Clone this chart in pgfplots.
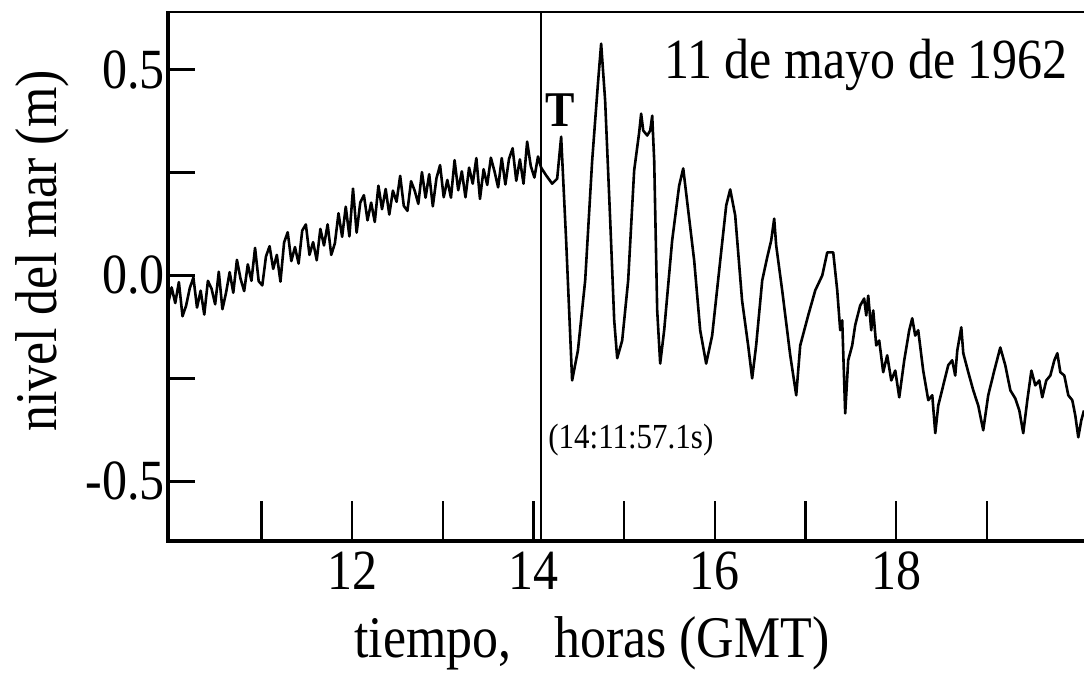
\documentclass[border=0pt]{standalone}
\usepackage{fontspec}
\setmainfont{Liberation Serif}[FakeStretch=0.88]
\usepackage{pgfplots}
\pgfplotsset{compat=1.18}
\pgfplotstableread{
h v
9.97 -0.070
10.01 -0.029
10.05 -0.067
10.09 -0.016
10.13 -0.099
10.17 -0.073
10.21 -0.031
10.25 -0.005
10.29 -0.078
10.33 -0.037
10.37 -0.095
10.41 -0.013
10.45 -0.032
10.49 -0.070
10.53 0.009
10.57 -0.082
10.61 -0.042
10.65 0.008
10.69 -0.042
10.73 0.038
10.77 -0.008
10.81 -0.038
10.85 0.027
10.89 -0.013
10.93 0.067
10.97 -0.014
11.01 -0.024
11.05 0.046
11.09 0.071
11.13 0.016
11.17 0.050
11.21 -0.015
11.25 0.080
11.29 0.105
11.33 0.035
11.37 0.069
11.41 0.029
11.45 0.109
11.49 0.124
11.53 0.050
11.57 0.081
11.61 0.037
11.65 0.113
11.69 0.073
11.73 0.124
11.77 0.050
11.81 0.078
11.85 0.151
11.89 0.094
11.93 0.167
11.97 0.095
12.01 0.211
12.05 0.104
12.09 0.177
12.13 0.195
12.17 0.134
12.21 0.177
12.25 0.130
12.29 0.218
12.33 0.161
12.37 0.210
12.41 0.148
12.45 0.206
12.49 0.179
12.53 0.242
12.57 0.169
12.61 0.157
12.65 0.229
12.69 0.206
12.73 0.174
12.77 0.251
12.81 0.189
12.85 0.246
12.89 0.168
12.93 0.236
12.97 0.268
13.01 0.190
13.05 0.232
13.09 0.189
13.13 0.280
13.17 0.207
13.21 0.253
13.25 0.190
13.29 0.262
13.33 0.223
13.37 0.285
13.41 0.186
13.45 0.258
13.49 0.220
13.53 0.286
13.57 0.253
13.61 0.214
13.65 0.285
13.69 0.221
13.73 0.283
13.77 0.309
13.81 0.230
13.85 0.282
13.89 0.223
13.93 0.325
13.97 0.266
14.01 0.238
14.05 0.289
14.084 0.262
14.14 0.243
14.206 0.223
14.261 0.235
14.305 0.337
14.36 0.085
14.426 -0.255
14.49 -0.182
14.57 -0.012
14.647 0.279
14.713 0.473
14.746 0.563
14.79 0.425
14.846 0.133
14.89 -0.109
14.923 -0.201
14.978 -0.158
15.044 -0.012
15.11 0.255
15.165 0.347
15.187 0.393
15.21 0.352
15.254 0.340
15.287 0.352
15.309 0.388
15.331 0.279
15.364 -0.085
15.397 -0.214
15.441 -0.133
15.529 0.085
15.606 0.218
15.651 0.260
15.706 0.158
15.772 0.036
15.838 -0.133
15.904 -0.214
15.97 -0.146
16.059 0.036
16.125 0.170
16.169 0.209
16.224 0.146
16.30 -0.061
16.367 -0.170
16.411 -0.250
16.455 -0.170
16.522 -0.012
16.577 0.044
16.621 0.085
16.654 0.138
16.676 0.073
16.742 -0.036
16.831 -0.194
16.897 -0.291
16.941 -0.170
17.029 -0.097
17.107 -0.036
17.184 0.000
17.239 0.056
17.305 0.056
17.349 -0.036
17.382 -0.133
17.404 -0.109
17.437 -0.335
17.47 -0.206
17.514 -0.170
17.547 -0.121
17.602 -0.073
17.646 -0.056
17.669 -0.097
17.691 -0.049
17.724 -0.133
17.746 -0.085
17.779 -0.170
17.812 -0.158
17.856 -0.235
17.90 -0.194
17.945 -0.255
17.989 -0.231
18.033 -0.296
18.088 -0.206
18.143 -0.133
18.176 -0.104
18.209 -0.146
18.242 -0.133
18.297 -0.231
18.353 -0.303
18.397 -0.291
18.43 -0.383
18.463 -0.316
18.518 -0.267
18.573 -0.218
18.617 -0.206
18.65 -0.243
18.673 -0.182
18.717 -0.126
18.739 -0.189
18.794 -0.235
18.849 -0.279
18.904 -0.316
18.959 -0.376
19.014 -0.291
19.081 -0.231
19.147 -0.175
19.202 -0.218
19.258 -0.279
19.313 -0.299
19.357 -0.328
19.40 -0.383
19.445 -0.303
19.49 -0.231
19.533 -0.267
19.577 -0.255
19.61 -0.296
19.654 -0.255
19.699 -0.243
19.743 -0.206
19.776 -0.189
19.809 -0.235
19.853 -0.243
19.897 -0.291
19.941 -0.303
19.974 -0.340
20.007 -0.393
20.04 -0.352
20.07 -0.328
}\gauge
\begin{document}
\begin{tikzpicture}
\useasboundingbox (-84pt,-68pt) rectangle (458pt,270.5pt);
\begin{axis}[
  at={(0,0)}, anchor=south west,
  scale only axis, width=458pt, height=264.5pt,
  xmin=9.97, xmax=20.07, ymin=-0.645, ymax=0.64,
  clip=false,
  axis line style={draw=none},
  xtick={12,14,16,18}, xtick style={draw=none},
  ytick={-0.5,-0.25,0,0.25,0.5}, yticklabels={-0.5,,0.0,,0.5},
  ytick pos=left, xtick pos=bottom,
  tick align=inside, major tick length=13.5pt,
  ytick style={line width=1.2pt, black},
  tick label style={font=\fontsize{28.4}{28}\selectfont, black},
  xticklabel style={yshift=-2pt},
  yticklabel style={xshift=2pt},
  /pgf/number format/assume math mode=true,
]
\pgfplotsinvokeforeach{11,12,13,14,15,16,17,18,19}{
  \draw[line width=1.2pt] (axis cs:#1,-0.645) -- (axis cs:#1,-0.548);
}
\draw[line width=0.8pt] (axis cs:14.084,-0.645) -- (axis cs:14.084,0.64);
\addplot[black, line width=1.3pt, line join=round, mark=none] table[x=h, y=v] {\gauge};
\end{axis}
\draw[line width=1.2pt] (458pt,264.5pt) -- (0,264.5pt);
\draw[line width=1.8pt] (0,265pt) -- (0,0) -- (458pt,0);
\node[rotate=90, font=\fontsize{29.5}{30}\selectfont] at (-63pt,145pt) {nivel del mar (m)};
\node[font=\fontsize{29.5}{30}\selectfont] at (212pt,-51pt) {tiempo,\hspace{0.5em} horas (GMT)};
\node[font=\fontsize{28.4}{28}\selectfont] at (349pt,238pt) {11 de mayo de 1962};
\node[font=\fontsize{25}{25}\selectfont\bfseries] at (196pt,215.5pt) {T};
\node[font=\fontsize{17.6}{18}\selectfont, anchor=west, inner sep=0pt] at (190pt,50.5pt) {(14:11:57.1s)};
\end{tikzpicture}
\end{document}
